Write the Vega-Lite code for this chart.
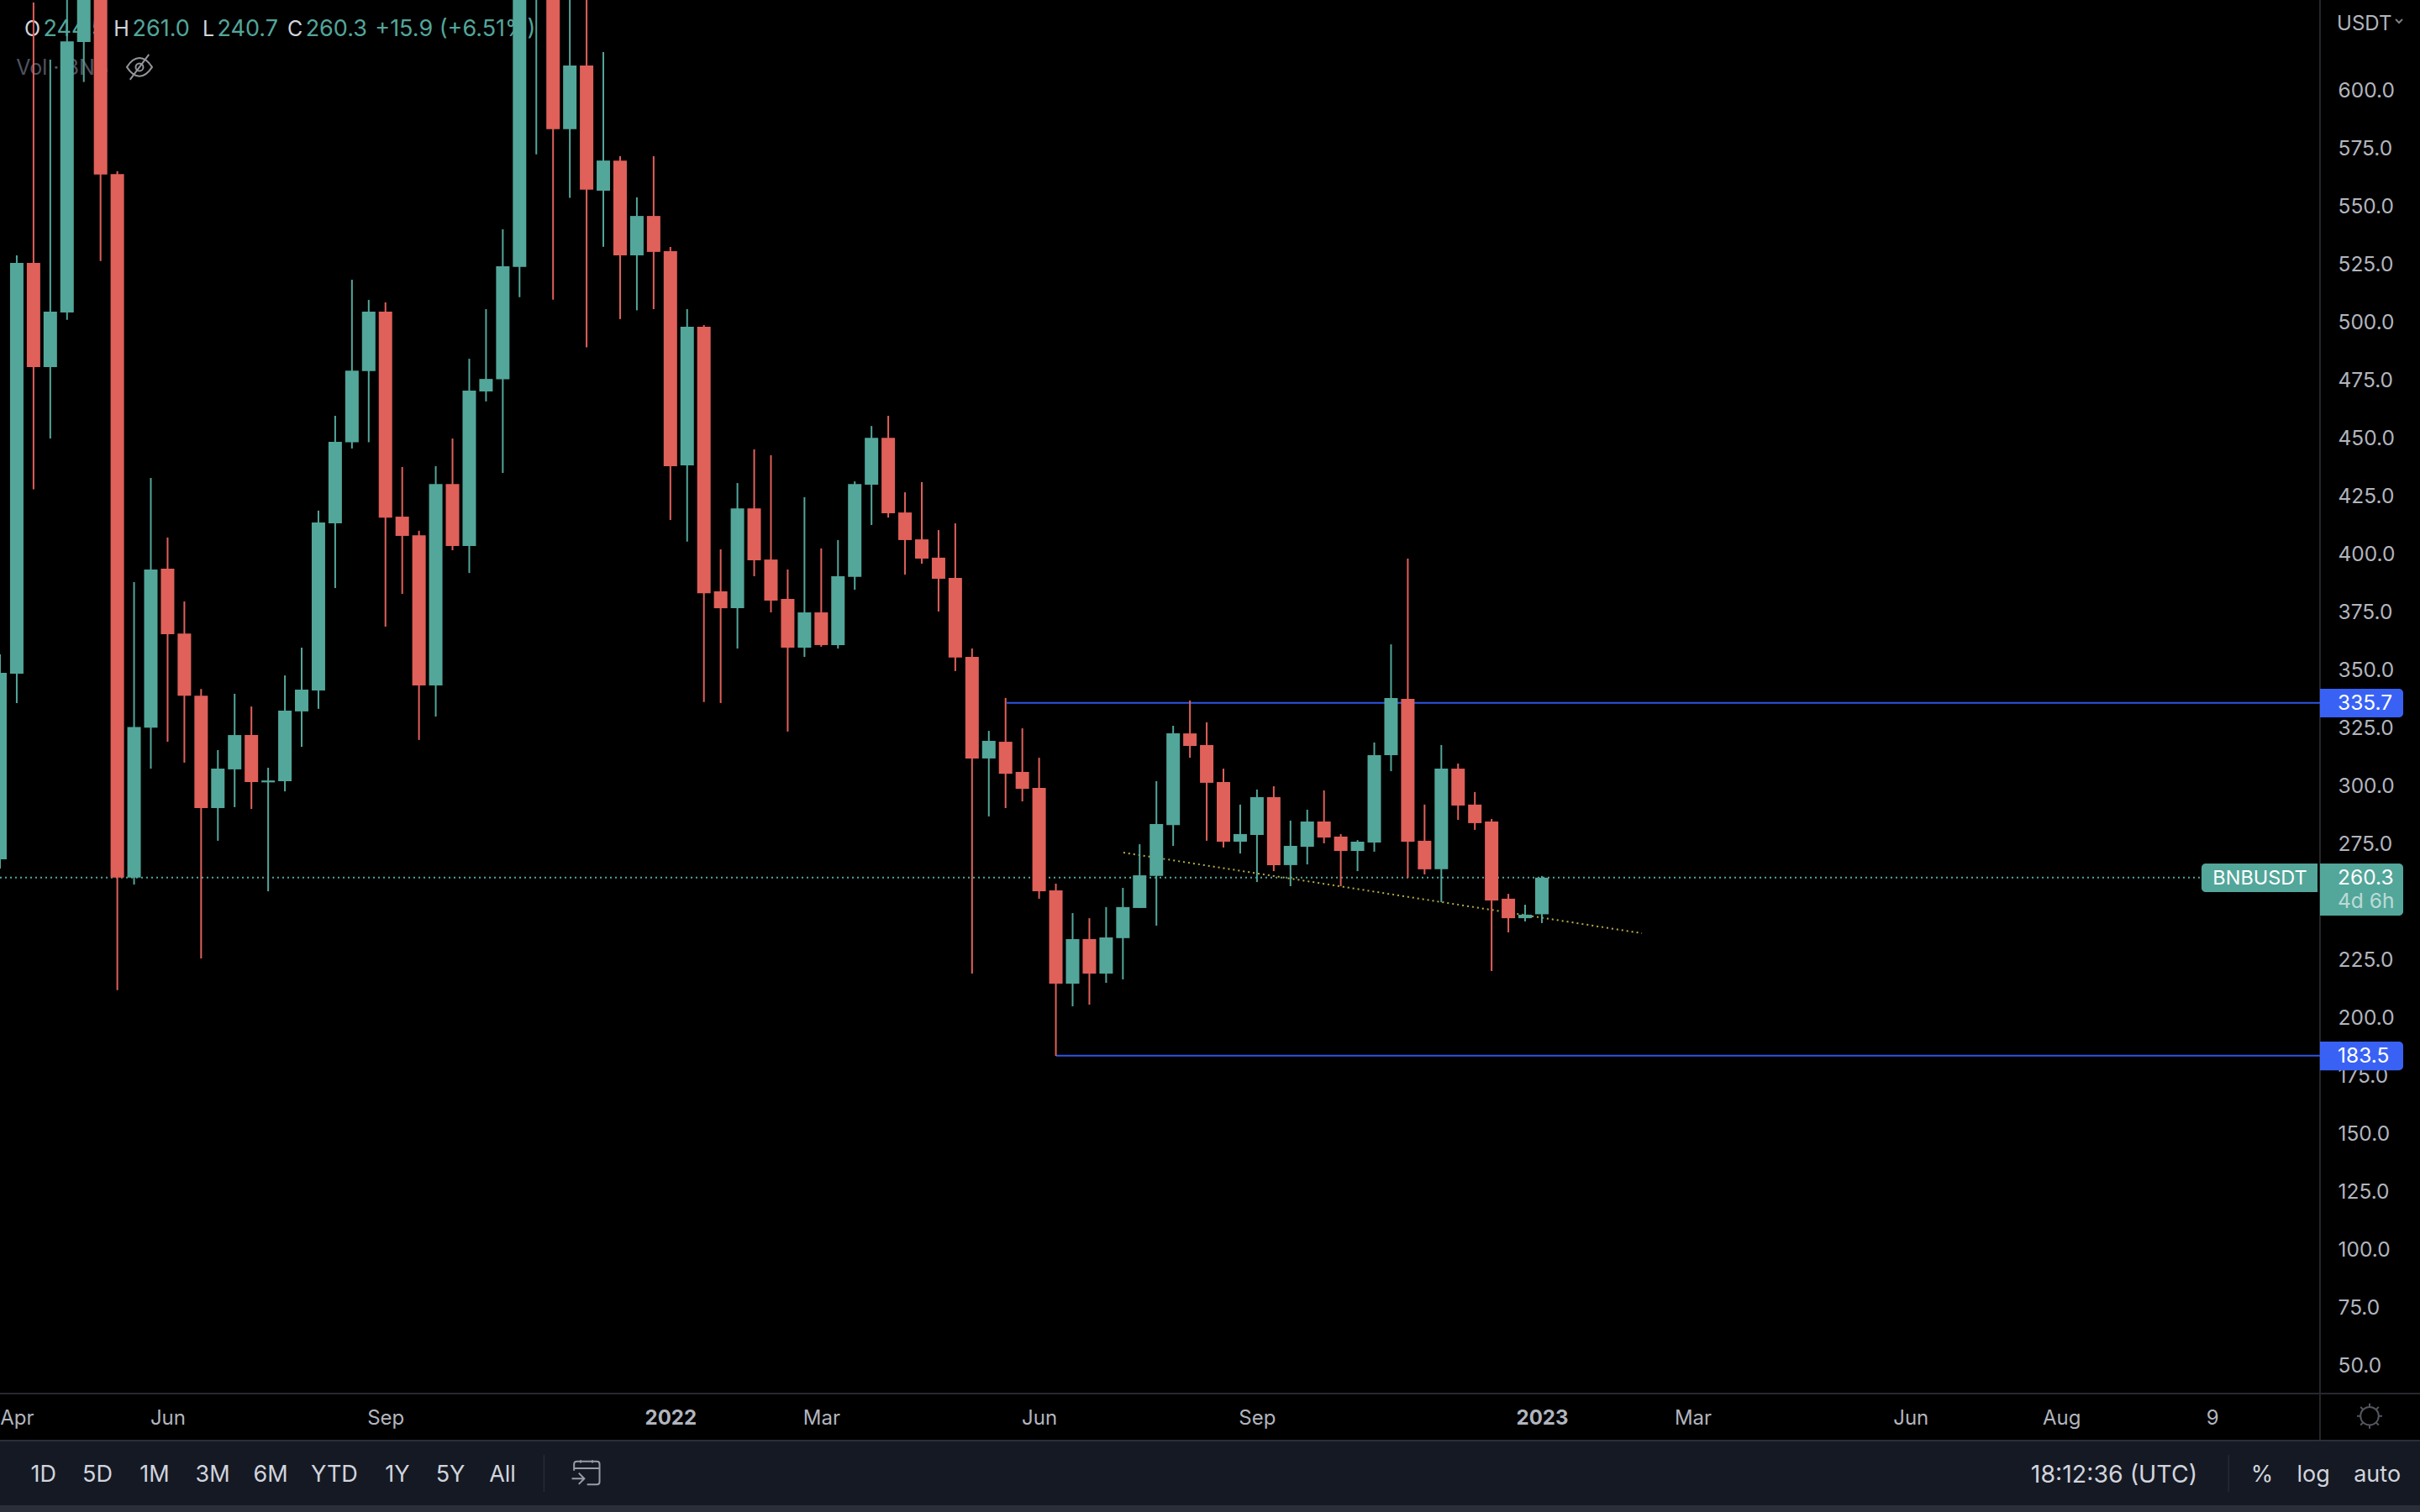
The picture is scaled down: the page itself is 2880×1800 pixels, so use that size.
{
"$schema":"https://vega.github.io/schema/vega-lite/v6.json",
"autosize":{"type":"none"},
"padding":{"left":0,"top":0,"right":119,"bottom":141},
"width":2761,"height":1659,
"background":"#000000",
"config":{"view":{"stroke":null},"text":{"font":"Inter"},"scale":{"continuousPadding":0}},
"datasets":{
"candles":[
{"date":"2021-03-29","open":268.2,"high":356.6,"low":264.2,"close":348.6},
{"date":"2021-04-05","open":348.3,"high":528.7,"low":335.6,"close":525.4},
{"date":"2021-04-12","open":525.4,"high":637.8,"low":427.8,"close":480.5},
{"date":"2021-04-19","open":480.5,"high":613.1,"low":449.7,"close":504.4},
{"date":"2021-04-26","open":504.1,"high":650,"low":500.9,"close":621},
{"date":"2021-05-03","open":620.7,"high":690,"low":603.5,"close":660},
{"date":"2021-05-10","open":660,"high":672,"low":526.3,"close":563.6},
{"date":"2021-05-17","open":563.8,"high":565,"low":211.8,"close":260.3},
{"date":"2021-05-24","open":260.3,"high":387.8,"low":257.3,"close":325.3},
{"date":"2021-05-31","open":325,"high":432.7,"low":307.3,"close":393.2},
{"date":"2021-06-07","open":393.6,"high":407,"low":318.9,"close":365.3},
{"date":"2021-06-14","open":365.6,"high":379.4,"low":309.9,"close":338.8},
{"date":"2021-06-21","open":338.8,"high":341.7,"low":225.4,"close":290.3},
{"date":"2021-06-28","open":290.3,"high":315.3,"low":276.2,"close":307.3},
{"date":"2021-07-05","open":307,"high":339.6,"low":290.7,"close":321.8},
{"date":"2021-07-12","open":321.8,"high":334.1,"low":289.9,"close":301.5},
{"date":"2021-07-19","open":301.4,"high":307.7,"low":254.4,"close":302.2},
{"date":"2021-07-26","open":301.9,"high":347.5,"low":297.5,"close":332.3},
{"date":"2021-08-02","open":332,"high":359.5,"low":316.7,"close":341.4},
{"date":"2021-08-09","open":341,"high":418.6,"low":333.1,"close":413.5},
{"date":"2021-08-16","open":413.1,"high":459.5,"low":385.2,"close":448.3},
{"date":"2021-08-23","open":448.1,"high":518.2,"low":445.4,"close":479},
{"date":"2021-08-30","open":478.8,"high":509.5,"low":448.1,"close":504.4},
{"date":"2021-09-06","open":504.4,"high":508.4,"low":368.6,"close":415.6},
{"date":"2021-09-13","open":416,"high":437.4,"low":382.7,"close":407.7},
{"date":"2021-09-20","open":408,"high":409.9,"low":319.7,"close":343.2},
{"date":"2021-09-27","open":343.2,"high":437.8,"low":329.8,"close":430.1},
{"date":"2021-10-04","open":430.1,"high":449.7,"low":401.5,"close":403.3},
{"date":"2021-10-11","open":403.3,"high":484.1,"low":391.7,"close":470.4},
{"date":"2021-10-18","open":470,"high":505.5,"low":465.7,"close":475.4},
{"date":"2021-10-25","open":475.3,"high":539.9,"low":434.9,"close":524},
{"date":"2021-11-01","open":523.7,"high":665,"low":510.7,"close":650},
{"date":"2021-11-08","open":648,"high":670,"low":572.3,"close":655},
{"date":"2021-11-15","open":655,"high":660,"low":509.6,"close":583.1},
{"date":"2021-11-22","open":583.1,"high":660,"low":553.5,"close":610.6},
{"date":"2021-11-29","open":610.6,"high":645,"low":489,"close":557.1},
{"date":"2021-12-06","open":556.6,"high":616.4,"low":532.4,"close":569.6},
{"date":"2021-12-13","open":569.6,"high":571.5,"low":501.2,"close":528.7},
{"date":"2021-12-20","open":528.7,"high":553.7,"low":505,"close":545.7},
{"date":"2021-12-27","open":545.7,"high":571.5,"low":505.5,"close":530.2},
{"date":"2022-01-03","open":530.5,"high":532.3,"low":414.6,"close":437.8},
{"date":"2022-01-10","open":438.1,"high":505.5,"low":405.2,"close":497.9},
{"date":"2022-01-17","open":497.9,"high":498.6,"low":336,"close":383},
{"date":"2022-01-24","open":383.8,"high":401.9,"low":335.6,"close":376.5},
{"date":"2022-01-31","open":376.5,"high":430.5,"low":359.1,"close":419.6},
{"date":"2022-02-07","open":419.6,"high":445,"low":390.3,"close":397.2},
{"date":"2022-02-14","open":397.5,"high":442.5,"low":374.7,"close":379.8},
{"date":"2022-02-21","open":380.5,"high":393.2,"low":323.3,"close":359.5},
{"date":"2022-02-28","open":359.5,"high":424.4,"low":355.5,"close":374.7},
{"date":"2022-03-07","open":374.7,"high":402.3,"low":359.9,"close":360.6},
{"date":"2022-03-14","open":360.6,"high":405.9,"low":359.1,"close":390.3},
{"date":"2022-03-21","open":390,"high":431.2,"low":384.5,"close":430.1},
{"date":"2022-03-28","open":429.8,"high":455.1,"low":412.4,"close":450},
{"date":"2022-04-04","open":450,"high":459.5,"low":415.6,"close":417.5},
{"date":"2022-04-11","open":417.8,"high":426.5,"low":391,"close":405.9},
{"date":"2022-04-18","open":406.2,"high":430.9,"low":395.7,"close":397.9},
{"date":"2022-04-25","open":398.3,"high":410.2,"low":375.1,"close":389.2},
{"date":"2022-05-02","open":389.6,"high":413.1,"low":349.4,"close":355.2},
{"date":"2022-05-09","open":355.5,"high":359.1,"low":218.9,"close":311.7},
{"date":"2022-05-16","open":311.7,"high":323.6,"low":286.7,"close":319.3},
{"date":"2022-05-23","open":318.9,"high":337.8,"low":290.3,"close":305.1},
{"date":"2022-05-30","open":305.9,"high":324.7,"low":293.2,"close":298.6},
{"date":"2022-06-06","open":299,"high":312,"low":251.2,"close":254.4},
{"date":"2022-06-13","open":254.8,"high":257.7,"low":183.4,"close":214.6},
{"date":"2022-06-20","open":214.6,"high":245,"low":204.8,"close":233.8},
{"date":"2022-06-27","open":233.8,"high":242.8,"low":205.5,"close":218.9},
{"date":"2022-07-04","open":218.9,"high":247.6,"low":214.9,"close":234.5},
{"date":"2022-07-11","open":234.2,"high":255.9,"low":216.4,"close":247.6},
{"date":"2022-07-18","open":247.2,"high":274.7,"low":247.2,"close":261.3},
{"date":"2022-07-25","open":261,"high":301.9,"low":239.6,"close":283.4},
{"date":"2022-08-01","open":283,"high":325.8,"low":274,"close":322.5},
{"date":"2022-08-08","open":322.5,"high":336.7,"low":312,"close":317.1},
{"date":"2022-08-15","open":317.5,"high":327.3,"low":276.2,"close":301.2},
{"date":"2022-08-22","open":301.5,"high":307.3,"low":273.3,"close":275.8},
{"date":"2022-08-29","open":275.8,"high":291.8,"low":270.7,"close":279.1},
{"date":"2022-09-05","open":278.7,"high":298.3,"low":258.4,"close":295},
{"date":"2022-09-12","open":295,"high":299.7,"low":263.1,"close":265.7},
{"date":"2022-09-19","open":265.7,"high":284.9,"low":256.6,"close":274},
{"date":"2022-09-26","open":273.6,"high":289.6,"low":266,"close":284.5},
{"date":"2022-10-03","open":284.5,"high":297.9,"low":275.1,"close":277.6},
{"date":"2022-10-10","open":278,"high":279.1,"low":256.6,"close":271.8},
{"date":"2022-10-17","open":271.8,"high":276.5,"low":263.1,"close":275.8},
{"date":"2022-10-24","open":275.4,"high":318.6,"low":271.5,"close":313.1},
{"date":"2022-10-31","open":313.1,"high":360.9,"low":306.2,"close":337.8},
{"date":"2022-11-07","open":337.4,"high":397.9,"low":260.2,"close":275.8},
{"date":"2022-11-14","open":276.2,"high":291.8,"low":261.7,"close":263.9},
{"date":"2022-11-21","open":263.9,"high":317.5,"low":249.7,"close":307.3},
{"date":"2022-11-28","open":307.3,"high":309.5,"low":285.2,"close":291.4},
{"date":"2022-12-05","open":291.8,"high":297.2,"low":280.9,"close":283.8},
{"date":"2022-12-12","open":284.5,"high":285.6,"low":220,"close":250.4},
{"date":"2022-12-19","open":251.2,"high":253.3,"low":236.7,"close":242.8},
{"date":"2022-12-26","open":242.8,"high":248.6,"low":241.4,"close":244.3},
{"date":"2023-01-02","open":244.5,"high":261,"low":240.7,"close":260.3}
]},
"encoding":{
"x":{"field":"date","type":"temporal","title":null,
 "scale":{"type":"utc","domain":["2021-03-29","2023-11-23"],"nice":false,"padding":0},
 "axis":{"values":["2021-04-05","2021-06-07","2021-09-06","2022-01-03","2022-03-07","2022-06-06","2022-09-05","2023-01-02","2023-03-06","2023-06-05","2023-08-07","2023-10-09"],
  "labelExpr":"utcmonth(datum.value)===0?utcFormat(datum.value,'%Y'):(utcmonth(datum.value)===9?'9':utcFormat(datum.value,'%b'))",
  "labelFontWeight":{"condition":{"test":"utcmonth(datum.value)===0","value":"bold"},"value":"normal"},
  "domain":false,"ticks":false,"grid":false,"title":null,"labelFont":"Inter","labelFontSize":24,"labelColor":"#b2b5be","labelPadding":17,"labelOverlap":false,"labelBound":false,"labelFlush":false,"labelAngle":0}},
"y":{"field":"price","type":"quantitative","title":null,
 "scale":{"domain":[37.76,638.85],"nice":false,"zero":false},
 "axis":{"orient":"right","values":[50,75,100,125,150,175,200,225,250,275,300,325,350,375,400,425,450,475,500,525,550,575,600],"format":".1f",
  "domain":false,"ticks":false,"grid":false,"title":null,"labelFont":"Inter","labelFontSize":24.5,"labelColor":"#b2b5be","labelPadding":21,"labelOffset":1.5,"labelAlign":"left","labelBaseline":"middle","labelOverlap":false,"labelBound":false,"labelFlush":false}}
},
"layer":[
{"data":{"values":[
 {"part":"bar","date":"2021-03-29","date2":"2024-01-04","price":17.5,"price2":-10.4},
 {"part":"edge","date":"2021-03-29","date2":"2024-01-04","price":17.83,"price2":17.1},
 {"part":"edge","date":"2021-03-29","date2":"2024-01-04","price":-10.4,"price2":-14},
 {"part":"line","date":"2021-03-29","date2":"2024-01-04","price":38.1,"price2":37.4},
 {"part":"line","date":"2023-11-22T16:00:00Z","date2":"2023-11-23T08:00:00Z","price":638.85,"price2":17.8},
 {"part":"edge","date":"2021-11-11T00:00:00Z","date2":"2021-11-11T10:00:00Z","price":11.3,"price2":-4.6},
 {"part":"edge","date":"2023-10-15T14:00:00Z","date2":"2023-10-16T00:00:00Z","price":11.3,"price2":-4.6}
 ]},
 "mark":{"type":"rect"},
 "encoding":{"x2":{"field":"date2"},"y2":{"field":"price2"},
  "color":{"field":"part","type":"nominal","legend":null,"scale":{"domain":["bar","edge","line"],"range":["#151924","#2a2e39","#26282d"]}}}},
{"data":{"values":[
 {"label":"O","date":"2021-04-08T04:00:00Z","price":626.2},
 {"label":"H","date":"2021-05-15T12:00:00Z","price":626.2},
 {"label":"L","date":"2021-06-21T14:00:00Z","price":626.2},
 {"label":"C","date":"2021-07-27T01:00:00Z","price":626.2}]},
 "mark":{"type":"text","align":"left","baseline":"middle","fontSize":25,"color":"#d1d4dc"},
 "encoding":{"text":{"field":"label"}}},
{"data":{"values":[
 {"label":"244.5","date":"2021-04-16T01:00:00Z","price":626.2},
 {"label":"261.0","date":"2021-05-23T07:00:00Z","price":626.2},
 {"label":"240.7","date":"2021-06-27T17:00:00Z","price":626.2},
 {"label":"260.3","date":"2021-08-03T15:00:00Z","price":626.2},
 {"label":"+15.9 (+6.51%)","date":"2021-09-01T15:00:00Z","price":626.2}]},
 "mark":{"type":"text","align":"left","baseline":"middle","fontSize":27,"color":"#53a69a"},
 "encoding":{"text":{"field":"label"}}},
{"data":{"values":[{"label":"Vol · BNB","date":"2021-04-04T18:00:00Z","price":609.6}]},
 "mark":{"type":"text","align":"left","baseline":"middle","fontSize":25,"color":"#50535e"},
 "encoding":{"text":{"field":"label"}}},
{"data":{"values":[{"date":"2021-05-26T06:00:00Z","price":609.9}]},
 "mark":{"type":"point","filled":false,"size":900,"stroke":"#d1d4dc","strokeWidth":2,"shape":"M-1,0C-0.6,-0.62 -0.25,-0.72 0,-0.72C0.25,-0.72 0.6,-0.62 1,0C0.6,0.62 0.25,0.72 0,0.72C-0.25,0.72 -0.6,0.62 -1,0ZM-0.3,0A0.3,0.3 0 1,0 0.3,0A0.3,0.3 0 1,0 -0.3,0M-0.75,1L0.75,-1"}},
{"data":{"values":[{"date":"2021-03-29","date2":"2023-10-03T19:00:00Z","price":260.3}]},
 "mark":{"type":"rule","color":"#53a69a","strokeWidth":2,"strokeDash":[2,4]},
 "encoding":{"x2":{"field":"date2"}}},
{"data":{"values":[
 {"date":"2022-05-23T11:00:00Z","date2":"2023-11-23","price":335.7},
 {"date":"2022-06-13T04:00:00Z","date2":"2023-11-23","price":183.5}]},
 "mark":{"type":"rule","color":"#2f55e4","strokeWidth":2},
 "encoding":{"x2":{"field":"date2"}}},
{"data":{"values":[
 {"date":"2022-07-11T05:00:00Z","price":271.1},
 {"date":"2023-02-12T19:00:00Z","price":236.3}]},
 "mark":{"type":"line","color":"#b5ad45","strokeWidth":2,"strokeDash":[2,4]}},
{"data":{"name":"candles"},
 "mark":{"type":"rule","strokeWidth":2,"clip":true},
 "encoding":{
  "y":{"field":"low","type":"quantitative","title":null,"scale":{"domain":[37.76,638.85],"nice":false,"zero":false},
   "axis":{"orient":"right","values":[50,75,100,125,150,175,200,225,250,275,300,325,350,375,400,425,450,475,500,525,550,575,600],"format":".1f",
  "domain":false,"ticks":false,"grid":false,"title":null,"labelFont":"Inter","labelFontSize":24.5,"labelColor":"#b2b5be","labelPadding":21,"labelOffset":1.5,"labelAlign":"left","labelBaseline":"middle","labelOverlap":false,"labelBound":false,"labelFlush":false}},
  "y2":{"field":"high"},
  "color":{"condition":{"test":"datum.close>=datum.open","value":"#53a69a"},"value":"#e0605a"}}},
{"data":{"name":"candles"},
 "mark":{"type":"bar","size":16,"clip":true},
 "encoding":{
  "y":{"field":"open","type":"quantitative","title":null,"scale":{"domain":[37.76,638.85],"nice":false,"zero":false},
   "axis":{"orient":"right","values":[50,75,100,125,150,175,200,225,250,275,300,325,350,375,400,425,450,475,500,525,550,575,600],"format":".1f",
  "domain":false,"ticks":false,"grid":false,"title":null,"labelFont":"Inter","labelFontSize":24.5,"labelColor":"#b2b5be","labelPadding":21,"labelOffset":1.5,"labelAlign":"left","labelBaseline":"middle","labelOverlap":false,"labelBound":false,"labelFlush":false}},
  "y2":{"field":"close"},
  "color":{"condition":{"test":"datum.close>=datum.open","value":"#53a69a"},"value":"#e0605a"}}},
{"data":{"values":[
 {"date":"2023-11-23","date2":"2023-12-27T18:00:00Z","price":341.75,"price2":329.4},
 {"date":"2023-11-23","date2":"2023-12-27T18:00:00Z","price":189.6,"price2":177.2}]},
 "mark":{"type":"rect","color":"#3962f5","cornerRadiusTopRight":5,"cornerRadiusBottomRight":5},
 "encoding":{"x2":{"field":"date2"},"y2":{"field":"price2"}}},
{"data":{"values":[{"date":"2023-11-23","date2":"2023-12-27T18:00:00Z","price":266.4,"price2":243.9}]},
 "mark":{"type":"rect","color":"#53a69a","cornerRadiusTopRight":5,"cornerRadiusBottomRight":5},
 "encoding":{"x2":{"field":"date2"},"y2":{"field":"price2"}}},
{"data":{"values":[{"date":"2023-10-04T12:00:00Z","date2":"2023-11-21T23:00:00Z","price":266.4,"price2":254.1}]},
 "mark":{"type":"rect","color":"#53a69a","cornerRadiusTopLeft":5,"cornerRadiusBottomLeft":5},
 "encoding":{"x2":{"field":"date2"},"y2":{"field":"price2"}}},
{"data":{"values":[
 {"label":"335.7","date":"2023-11-30T09:00:00Z","price":335.3},
 {"label":"183.5","date":"2023-11-30T09:00:00Z","price":183.1},
 {"label":"260.3","date":"2023-11-30T09:00:00Z","price":259.9}]},
 "mark":{"type":"text","align":"left","baseline":"middle","fontSize":24.5,"color":"#ffffff"},
 "encoding":{"text":{"field":"label"}}},
{"data":{"values":[{"label":"BNBUSDT","date":"2023-10-28T22:00:00Z","price":259.9}]},
 "mark":{"type":"text","align":"center","baseline":"middle","fontSize":23.5,"color":"#ffffff"},
 "encoding":{"text":{"field":"label"}}},
{"data":{"values":[{"label":"4d 6h","date":"2023-11-30T09:00:00Z","price":249.7}]},
 "mark":{"type":"text","align":"left","baseline":"middle","fontSize":24.5,"color":"#ffffff","opacity":0.6},
 "encoding":{"text":{"field":"label"}}},
{"data":{"values":[{"label":"USDT","date":"2023-11-30T01:00:00Z","price":628.2}]},
 "mark":{"type":"text","align":"left","baseline":"middle","fontSize":24,"color":"#b2b5be"},
 "encoding":{"text":{"field":"label"}}},
{"data":{"values":[{"date":"2023-12-26","price":629.8}]},
 "mark":{"type":"point","filled":false,"size":64,"stroke":"#b2b5be","strokeWidth":2,"shape":"M-1,-0.5L0,0.5L1,-0.5"}},
{"data":{"values":[{"date":"2023-12-13T17:00:00Z","price":28.08}]},
 "mark":{"type":"point","filled":false,"size":900,"stroke":"#787b86","strokeWidth":2,"shape":"M-0.72,0A0.72,0.72 0 1,0 0.72,0A0.72,0.72 0 1,0 -0.72,0ZM0,-1V-0.76M0,0.76V1M-1,0H-0.76M0.76,0H1M-0.72,-0.72L-0.55,-0.55M0.55,-0.55L0.72,-0.72M-0.72,0.72L-0.55,0.55M0.55,0.55L0.72,0.72"}},
{"data":{"values":[{"date":"2021-11-28T15:00:00Z","price":3.7}]},
 "mark":{"type":"point","filled":false,"size":1089,"stroke":"#d1d4dc","strokeWidth":2,"shape":"M-0.84,-0.14V-0.6Q-0.84,-0.8 -0.6,-0.8H0.8Q1,-0.8 1,-0.6V0.66Q1,0.86 0.8,0.86H0.1M-0.84,-0.3H1M-0.36,-0.9V-0.7M0.48,-0.9V-0.7M-1,0.44H-0.1M-0.5,0.04L-0.1,0.44L-0.5,0.84"}},
{"data":{"values":[
 {"label":"1D","date":"2021-04-16T03:00:00Z","price":2.62},
 {"label":"5D","date":"2021-05-08T17:00:00Z","price":2.62},
 {"label":"1M","date":"2021-06-01T14:00:00Z","price":2.62},
 {"label":"3M","date":"2021-06-25T19:00:00Z","price":2.62},
 {"label":"6M","date":"2021-07-20T00:00:00Z","price":2.62},
 {"label":"YTD","date":"2021-08-15T16:00:00Z","price":2.62},
 {"label":"1Y","date":"2021-09-11T00:00:00Z","price":2.62},
 {"label":"5Y","date":"2021-10-03T03:00:00Z","price":2.62},
 {"label":"All","date":"2021-10-24T21:00:00Z","price":2.62},
 {"label":"%","date":"2023-10-29T19:00:00Z","price":2.62},
 {"label":"log","date":"2023-11-20T05:00:00Z","price":2.62},
 {"label":"auto","date":"2023-12-16T22:00:00Z","price":2.62}]},
 "mark":{"type":"text","align":"center","baseline":"middle","fontSize":27,"color":"#d1d4dc"},
 "encoding":{"text":{"field":"label"}}},
{"data":{"values":[{"label":"18:12:36 (UTC)","date":"2023-08-29T00:00:00Z","price":2.62}]},
 "mark":{"type":"text","align":"center","baseline":"middle","fontSize":28.5,"color":"#d1d4dc"},
 "encoding":{"text":{"field":"label"}}}
]
}
